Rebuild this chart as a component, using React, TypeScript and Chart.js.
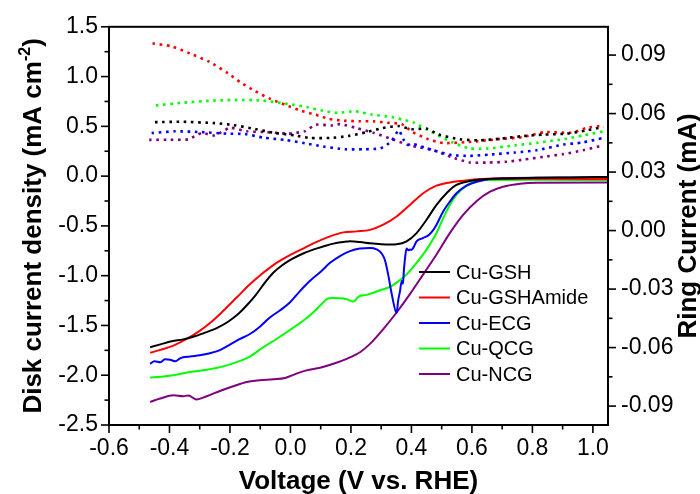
import React, { useEffect, useRef } from 'react';
import { Chart, registerables } from 'chart.js';

Chart.register(...registerables);

// ---------- Data ----------
const seriesNames = ['Cu-GSH', 'Cu-GSHAmide', 'Cu-ECG', 'Cu-QCG', 'Cu-NCG'];
const seriesColors = ['#000000', '#ff0000', '#0000ff', '#00ff00', '#800080'];

// Disk current density (mA cm^-2) vs voltage (V vs RHE)
const gshDiskV = [-0.464, -0.43, -0.393, -0.355, -0.316, -0.28, -0.239, -0.205, -0.173, -0.145, -0.117, -0.087, -0.057, -0.025, 0.009, 0.04, 0.075, 0.11, 0.142, 0.175, 0.197, 0.23, 0.263, 0.3, 0.329, 0.351, 0.384, 0.417, 0.45, 0.483, 0.516, 0.549, 0.593, 0.649, 0.726, 0.814, 0.924, 1.05];
const gshDiskJ = [-1.719, -1.69, -1.659, -1.64, -1.609, -1.57, -1.519, -1.46, -1.386, -1.3, -1.203, -1.08, -0.971, -0.89, -0.827, -0.78, -0.738, -0.705, -0.678, -0.662, -0.655, -0.662, -0.675, -0.685, -0.688, -0.685, -0.655, -0.572, -0.438, -0.289, -0.172, -0.089, -0.049, -0.029, -0.023, -0.016, -0.013, -0.008];

const amideDiskV = [-0.464, -0.43, -0.387, -0.343, -0.299, -0.26, -0.222, -0.178, -0.134, -0.09, -0.046, -0.002, 0.042, 0.087, 0.131, 0.175, 0.219, 0.263, 0.307, 0.351, 0.395, 0.439, 0.483, 0.527, 0.571, 0.626, 0.703, 0.85, 1.05];
const amideDiskJ = [-1.775, -1.745, -1.702, -1.636, -1.552, -1.46, -1.353, -1.22, -1.087, -0.971, -0.871, -0.794, -0.728, -0.661, -0.605, -0.565, -0.555, -0.54, -0.488, -0.405, -0.289, -0.172, -0.096, -0.063, -0.046, -0.029, -0.023, -0.027, -0.03];

const ecgDiskV = [-0.464, -0.45, -0.43, -0.415, -0.398, -0.38, -0.365, -0.332, -0.3, -0.266, -0.235, -0.2, -0.17, -0.134, -0.1, -0.068, -0.035, -0.002, 0.03, 0.064, 0.1, 0.131, 0.165, 0.197, 0.23, 0.263, 0.285, 0.3, 0.312, 0.323, 0.335, 0.351, 0.356, 0.362, 0.368, 0.372, 0.375, 0.379, 0.384, 0.39, 0.395, 0.4, 0.406, 0.417, 0.436, 0.456, 0.47, 0.483, 0.505, 0.527, 0.549, 0.582, 0.616, 0.66, 0.726, 0.85, 1.05];
const ecgDiskJ = [-1.885, -1.86, -1.87, -1.84, -1.845, -1.86, -1.83, -1.812, -1.8, -1.779, -1.75, -1.692, -1.64, -1.586, -1.51, -1.42, -1.35, -1.27, -1.16, -1.054, -0.96, -0.871, -0.8, -0.754, -0.728, -0.721, -0.735, -0.77, -0.84, -0.987, -1.186, -1.375, -1.253, -1.16, -1.054, -1.08, -0.95, -0.821, -0.728, -0.745, -0.738, -0.74, -0.721, -0.655, -0.625, -0.595, -0.55, -0.488, -0.355, -0.256, -0.172, -0.096, -0.056, -0.029, -0.018, -0.016, -0.014];

const qcgDiskV = [-0.464, -0.43, -0.387, -0.332, -0.277, -0.222, -0.178, -0.134, -0.09, -0.046, -0.002, 0.042, 0.075, 0.103, 0.12, 0.14, 0.164, 0.186, 0.208, 0.215, 0.224, 0.252, 0.296, 0.329, 0.351, 0.384, 0.417, 0.45, 0.483, 0.505, 0.527, 0.549, 0.582, 0.616, 0.66, 0.8, 1.05];
const qcgDiskJ = [-2.024, -2.015, -2.001, -1.968, -1.945, -1.911, -1.868, -1.812, -1.719, -1.636, -1.546, -1.453, -1.37, -1.286, -1.236, -1.225, -1.226, -1.236, -1.26, -1.245, -1.213, -1.193, -1.147, -1.113, -1.07, -0.987, -0.871, -0.738, -0.572, -0.422, -0.289, -0.189, -0.096, -0.049, -0.039, -0.037, -0.04];

const ncgDiskV = [-0.464, -0.431, -0.387, -0.354, -0.338, -0.31, -0.277, -0.233, -0.189, -0.145, -0.101, -0.057, -0.018, 0.02, 0.053, 0.098, 0.142, 0.186, 0.23, 0.263, 0.307, 0.351, 0.395, 0.439, 0.483, 0.527, 0.571, 0.616, 0.66, 0.703, 0.759, 0.814, 1.05];
const ncgDiskJ = [-2.268, -2.234, -2.201, -2.211, -2.204, -2.244, -2.211, -2.158, -2.111, -2.068, -2.051, -2.041, -2.028, -1.984, -1.951, -1.925, -1.885, -1.835, -1.769, -1.685, -1.536, -1.37, -1.186, -0.987, -0.787, -0.572, -0.389, -0.249, -0.156, -0.106, -0.076, -0.066, -0.065];

// Ring current (mA) vs voltage
const gshRingV = [-0.448, -0.36, -0.25, -0.189, -0.117, -0.057, 0.015, 0.064, 0.131, 0.191, 0.252, 0.305, 0.356, 0.4, 0.452, 0.489, 0.56, 0.626, 0.693, 0.77, 0.836, 0.913, 0.979, 1.034];
const gshRingI = [0.0556, 0.0558, 0.0551, 0.0541, 0.0521, 0.0502, 0.0488, 0.0475, 0.0475, 0.0485, 0.0505, 0.0526, 0.0536, 0.052, 0.0522, 0.0493, 0.0468, 0.0463, 0.0471, 0.0485, 0.0492, 0.0497, 0.0514, 0.0531];

const amideRingV = [-0.456, -0.393, -0.332, -0.268, -0.206, -0.165, -0.116, -0.066, -0.016, 0.031, 0.083, 0.127, 0.177, 0.226, 0.276, 0.32, 0.368, 0.404, 0.456, 0.505, 0.588, 0.682, 0.77, 0.841, 0.93, 0.979, 1.036];
const amideRingI = [0.096, 0.0945, 0.0908, 0.0865, 0.0806, 0.076, 0.0714, 0.0675, 0.0644, 0.0617, 0.0594, 0.0573, 0.0563, 0.0561, 0.056, 0.0553, 0.0546, 0.0505, 0.0468, 0.0449, 0.0454, 0.0468, 0.048, 0.0505, 0.0502, 0.0526, 0.0539];

const ecgRingV = [-0.459, -0.382, -0.294, -0.209, -0.15, -0.088, -0.018, 0.048, 0.108, 0.18, 0.243, 0.298, 0.334, 0.358, 0.373, 0.39, 0.4, 0.472, 0.533, 0.593, 0.66, 0.742, 0.814, 0.902, 0.963, 1.034];
const ecgRingI = [0.05, 0.0509, 0.0505, 0.0497, 0.0495, 0.0476, 0.0465, 0.0448, 0.0431, 0.0417, 0.0417, 0.0422, 0.0458, 0.0515, 0.0468, 0.044, 0.0446, 0.0412, 0.0387, 0.0383, 0.039, 0.04, 0.0412, 0.0441, 0.0451, 0.0475];

const qcgRingV = [-0.445, -0.36, -0.272, -0.183, -0.093, -0.007, 0.053, 0.108, 0.158, 0.213, 0.27, 0.335, 0.379, 0.406, 0.467, 0.533, 0.593, 0.654, 0.742, 0.819, 0.913, 0.968, 1.034];
const qcgRingI = [0.0642, 0.0655, 0.0665, 0.067, 0.0667, 0.0649, 0.0634, 0.0614, 0.0604, 0.0612, 0.0595, 0.0582, 0.0566, 0.0555, 0.0505, 0.0454, 0.0421, 0.0421, 0.0437, 0.0451, 0.0471, 0.0488, 0.0509];

const ncgRingV = [-0.467, -0.398, -0.338, -0.294, -0.25, -0.2, -0.145, -0.081, -0.007, 0.048, 0.084, 0.136, 0.164, 0.219, 0.274, 0.331, 0.393, 0.417, 0.474, 0.53, 0.593, 0.654, 0.715, 0.775, 0.836, 0.902, 0.968, 1.034];
const ncgRingI = [0.0465, 0.0466, 0.0468, 0.05, 0.0488, 0.0527, 0.0509, 0.0505, 0.0497, 0.051, 0.0543, 0.0539, 0.0546, 0.0526, 0.0502, 0.0471, 0.0437, 0.0429, 0.0412, 0.0378, 0.0349, 0.0349, 0.0353, 0.0365, 0.0378, 0.0392, 0.0412, 0.0437];

// Axes
const xRange = [-0.6, 1.05];
const diskRange = [-2.5, 1.5];
const ringRange = [-0.0997, 0.1045];
const xTicks = [-0.6, -0.4, -0.2, 0.0, 0.2, 0.4, 0.6, 0.8, 1.0];
const xMinorTicks = [-0.5, -0.3, -0.1, 0.1, 0.3, 0.5, 0.7, 0.9];
const diskTicks = [-2.5, -2.0, -1.5, -1.0, -0.5, 0.0, 0.5, 1.0, 1.5];
const diskMinorTicks = [-2.25, -1.75, -1.25, -0.75, -0.25, 0.25, 0.75, 1.25];
const ringTicks = [-0.09, -0.06, -0.03, 0.0, 0.03, 0.06, 0.09];
const ringMinorTicks = [-0.075, -0.045, -0.015, 0.015, 0.045, 0.075];

const xTitle = 'Voltage (V vs. RHE)';
const yTitleMain = 'Disk current density (mA cm';
const yTitleSup = '-2';
const yTitleEnd = ')';
const y2Title = 'Ring Current (mA)';

const diskV = [gshDiskV, amideDiskV, ecgDiskV, qcgDiskV, ncgDiskV];
const diskJ = [gshDiskJ, amideDiskJ, ecgDiskJ, qcgDiskJ, ncgDiskJ];
const ringV = [gshRingV, amideRingV, ecgRingV, qcgRingV, ncgRingV];
const ringI = [gshRingI, amideRingI, ecgRingI, qcgRingI, ncgRingI];

const zip = (xs: number[], ys: number[]) => xs.map((x, i) => ({ x, y: ys[i] }));

const FONT = '"Liberation Sans", Arial, sans-serif';

const decorPlugin = {
  id: 'decor',
  afterDraw(chart: any) {
    const { ctx, chartArea: a, scales } = chart;
    ctx.save();
    ctx.strokeStyle = '#000';
    ctx.fillStyle = '#000';
    // frame
    ctx.lineWidth = 2;
    ctx.strokeRect(a.left, a.top, a.right - a.left, a.bottom - a.top);
    const seg = (x1: number, y1: number, x2: number, y2: number) => {
      ctx.beginPath();
      ctx.moveTo(x1, y1);
      ctx.lineTo(x2, y2);
      ctx.stroke();
    };
    ctx.lineWidth = 1.6;
    xTicks.forEach((v) => { const p = scales.x.getPixelForValue(v); seg(p, a.bottom, p, a.bottom + 8); });
    xMinorTicks.forEach((v) => { const p = scales.x.getPixelForValue(v); seg(p, a.bottom, p, a.bottom + 4.5); });
    diskTicks.forEach((v) => { const p = scales.y.getPixelForValue(v); seg(a.left, p, a.left - 8, p); });
    diskMinorTicks.forEach((v) => { const p = scales.y.getPixelForValue(v); seg(a.left, p, a.left - 4.5, p); });
    ringTicks.forEach((v) => { const p = scales.y2.getPixelForValue(v); seg(a.right, p, a.right + 8, p); });
    ringMinorTicks.forEach((v) => { const p = scales.y2.getPixelForValue(v); seg(a.right, p, a.right + 4.5, p); });

    // axis titles
    const cx = (a.left + a.right) / 2;
    const cy = (a.top + a.bottom) / 2;
    ctx.font = `bold 26px ${FONT}`;
    ctx.textAlign = 'center';
    ctx.textBaseline = 'alphabetic';
    ctx.fillText(xTitle, cx, 489);

    // left title with superscript
    ctx.save();
    ctx.translate(41, cy);
    ctx.rotate(-Math.PI / 2);
    ctx.textAlign = 'left';
    const mainFont = `bold 26px ${FONT}`;
    const supFont = `bold 16px ${FONT}`;
    ctx.font = mainFont;
    const w1 = ctx.measureText(yTitleMain).width;
    const w3 = ctx.measureText(yTitleEnd).width;
    ctx.font = supFont;
    const w2 = ctx.measureText(yTitleSup).width;
    const x0 = -(w1 + w2 + w3) / 2;
    ctx.font = mainFont;
    ctx.fillText(yTitleMain, x0, 0);
    ctx.font = supFont;
    ctx.fillText(yTitleSup, x0 + w1, -11);
    ctx.font = mainFont;
    ctx.fillText(yTitleEnd, x0 + w1 + w2, 0);
    ctx.restore();

    // right title
    ctx.save();
    ctx.translate(696, cy);
    ctx.rotate(-Math.PI / 2);
    ctx.textAlign = 'center';
    ctx.font = `bold 26px ${FONT}`;
    ctx.fillText(y2Title, 0, 0);
    ctx.restore();

    // legend
    const lx = scales.x.getPixelForValue(xRange[0]) + 310;
    ctx.font = `20px ${FONT}`;
    ctx.textAlign = 'left';
    ctx.textBaseline = 'middle';
    seriesNames.forEach((name, i) => {
      const ly = 272 + i * 25.5;
      ctx.strokeStyle = seriesColors[i];
      ctx.lineWidth = 2;
      seg(lx, ly, lx + 31, ly);
      ctx.fillStyle = '#000';
      ctx.fillText(name, lx + 37, ly + 1);
    });
    ctx.restore();
  },
};

export default function App() {
  const ref = useRef<HTMLCanvasElement | null>(null);
  useEffect(() => {
    if (!ref.current) return;
    const datasets: any[] = [];
    seriesNames.forEach((name, i) => {
      datasets.push({
        label: name + ' ring',
        data: zip(ringV[i], ringI[i]),
        yAxisID: 'y2',
        borderColor: seriesColors[i],
        borderWidth: 2.6,
        borderDash: [2.6, 4.6],
        pointRadius: 0,
        tension: 0.2,
        fill: false,
      });
    });
    seriesNames.forEach((name, i) => {
      datasets.push({
        label: name,
        data: zip(diskV[i], diskJ[i]),
        yAxisID: 'y',
        borderColor: seriesColors[i],
        borderWidth: 2,
        pointRadius: 0,
        cubicInterpolationMode: 'monotone',
        fill: false,
      });
    });
    const tickFont = { family: FONT, size: 23 };
    const chart = new Chart(ref.current, {
      type: 'line',
      data: { datasets },
      options: {
        responsive: false,
        animation: false,
        events: [],
        layout: { padding: { top: 24, left: 0, right: 0, bottom: 0 }, autoPadding: false },
        plugins: { legend: { display: false }, tooltip: { enabled: false }, title: { display: false } },
        scales: {
          x: {
            type: 'linear',
            position: 'bottom',
            min: xRange[0],
            max: xRange[1],
            grid: { display: false, drawTicks: false },
            border: { display: false },
            afterBuildTicks: (s: any) => { s.ticks = xTicks.map((v) => ({ value: v })); },
            afterFit: (s: any) => { s.height = 69; },
            ticks: {
              font: tickFont,
              color: '#000',
              padding: 10,
              maxRotation: 0,
              autoSkip: false,
              callback: (v: any) => Number(v).toFixed(1),
            },
          },
          y: {
            type: 'linear',
            position: 'left',
            min: diskRange[0],
            max: diskRange[1],
            grid: { display: false, drawTicks: false },
            border: { display: false },
            afterBuildTicks: (s: any) => { s.ticks = diskTicks.map((v) => ({ value: v })); },
            afterFit: (s: any) => { s.width = 109; },
            ticks: {
              font: tickFont,
              color: '#000',
              padding: 11,
              autoSkip: false,
              callback: (v: any) => Number(v).toFixed(1),
            },
          },
          y2: {
            type: 'linear',
            position: 'right',
            min: ringRange[0],
            max: ringRange[1],
            grid: { display: false, drawTicks: false },
            border: { display: false },
            afterBuildTicks: (s: any) => { s.ticks = ringTicks.map((v) => ({ value: v })); },
            afterFit: (s: any) => { s.width = 92; },
            ticks: {
              font: tickFont,
              color: '#000',
              padding: 13,
              autoSkip: false,
              callback: (v: any) => Number(v).toFixed(2),
            },
          },
        },
      },
      plugins: [decorPlugin],
    } as any);
    return () => chart.destroy();
  }, []);
  return (
    <div style={{ position: 'absolute', left: 0, top: 0, width: 700, height: 494, background: '#fff' }}>
      <canvas ref={ref} width={700} height={494} />
    </div>
  );
}
